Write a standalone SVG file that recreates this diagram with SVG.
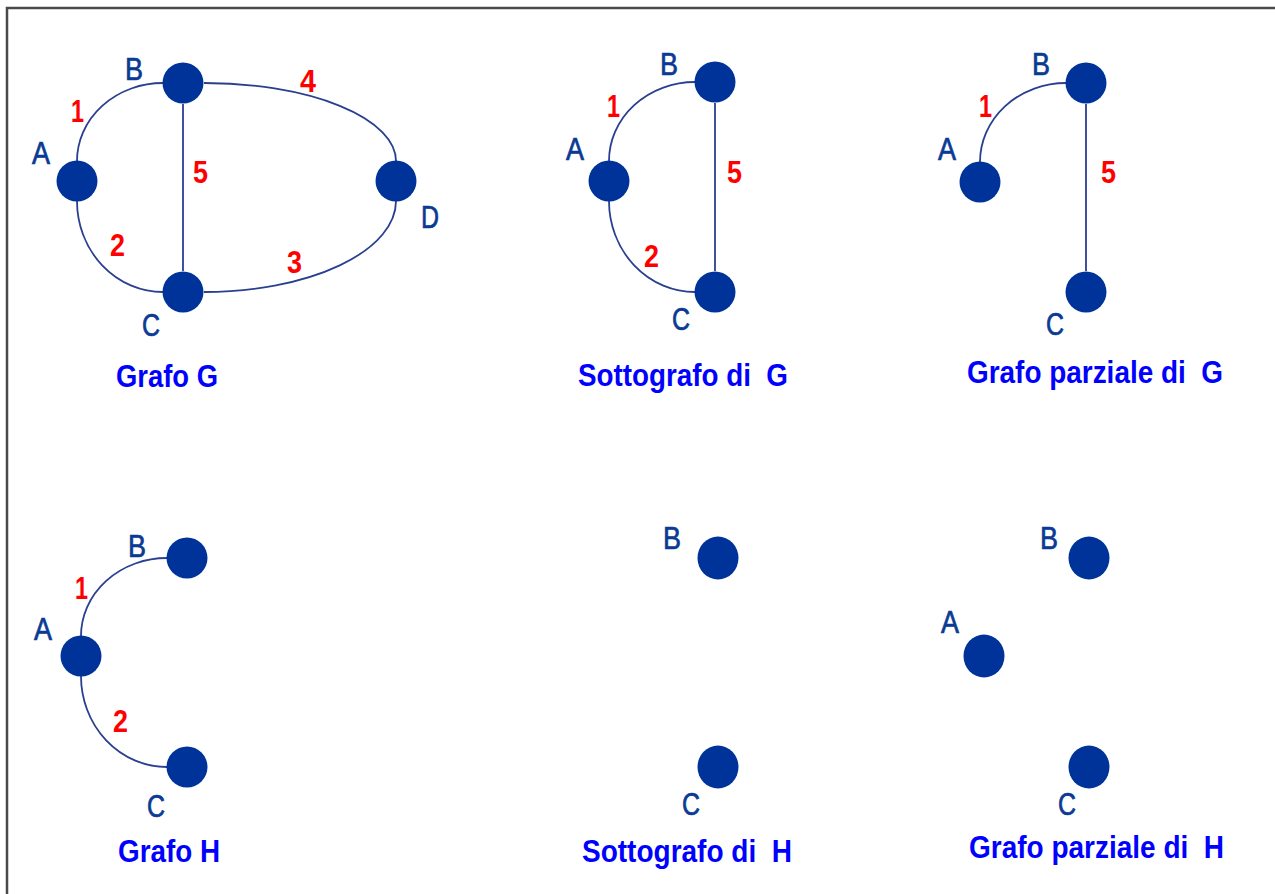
<svg xmlns="http://www.w3.org/2000/svg" width="1275" height="894" viewBox="0 0 1275 894">
<style>
.n{fill:#003399}
.e{fill:none;stroke:#2a3f8f;stroke-width:1.8}
.lb{font-family:"Liberation Sans",Arial,sans-serif;font-size:31px;fill:#0a3a94;stroke:#0a3a94;stroke-width:0.7}
.ew{font-family:"Liberation Sans",Arial,sans-serif;font-size:31px;font-weight:bold;fill:#ff0000}
.t{font-family:"Liberation Sans",Arial,sans-serif;font-size:31px;font-weight:bold;fill:#0000ff;white-space:pre}
</style>
<rect width="1275" height="894" fill="#ffffff"/>
<path d="M7,894 V8 H1275" fill="none" stroke="#4a4a4a" stroke-width="2.5"/>

<g id="connectors">
  <path class="e" d="M77,161 A86,78 0 0 1 163,83"/>
  <path class="e" d="M77,201 A86,91 0 0 0 163,292"/>
  <path class="e" d="M204,83 A192,78 0 0 1 396,161"/>
  <path class="e" d="M204,292 A192,91 0 0 0 396,201"/>
  <path class="e" d="M183,104 V271"/>
  <path class="e" d="M609,161 A86,79 0 0 1 695,82"/>
  <path class="e" d="M609,201 A86,91 0 0 0 695,292"/>
  <path class="e" d="M715,103 V271"/>
  <path class="e" d="M980,162 A86,79 0 0 1 1066,83"/>
  <path class="e" d="M1086,104 V271"/>
  <path class="e" d="M81,636 A86,78 0 0 1 167,558"/>
  <path class="e" d="M81,676 A86,91 0 0 0 167,767"/>
</g>

<g id="edge-labels">
  <text class="ew" x="71" y="122" textLength="13" lengthAdjust="spacingAndGlyphs">1</text>
  <text class="ew" x="300" y="92" textLength="16" lengthAdjust="spacingAndGlyphs">4</text>
  <text class="ew" x="193" y="183" textLength="15" lengthAdjust="spacingAndGlyphs">5</text>
  <text class="ew" x="110" y="256" textLength="15" lengthAdjust="spacingAndGlyphs">2</text>
  <text class="ew" x="287" y="273" textLength="15" lengthAdjust="spacingAndGlyphs">3</text>
  <text class="ew" x="607" y="117" textLength="13" lengthAdjust="spacingAndGlyphs">1</text>
  <text class="ew" x="727" y="183" textLength="15" lengthAdjust="spacingAndGlyphs">5</text>
  <text class="ew" x="644" y="267" textLength="15" lengthAdjust="spacingAndGlyphs">2</text>
  <text class="ew" x="979" y="117" textLength="13" lengthAdjust="spacingAndGlyphs">1</text>
  <text class="ew" x="1101" y="183" textLength="15" lengthAdjust="spacingAndGlyphs">5</text>
  <text class="ew" x="75" y="599" textLength="13" lengthAdjust="spacingAndGlyphs">1</text>
  <text class="ew" x="113" y="732" textLength="15" lengthAdjust="spacingAndGlyphs">2</text>
</g>

<g id="grafo-G">
  <g id="G-A"><circle class="n" cx="77" cy="181" r="20.5"/><text class="lb" x="32" y="164" textLength="18" lengthAdjust="spacingAndGlyphs">A</text></g>
  <g id="G-B"><circle class="n" cx="183" cy="83" r="20.5"/><text class="lb" x="125" y="80" textLength="18" lengthAdjust="spacingAndGlyphs">B</text></g>
  <g id="G-C"><circle class="n" cx="183" cy="292" r="20.5"/><text class="lb" x="142" y="336" textLength="18" lengthAdjust="spacingAndGlyphs">C</text></g>
  <g id="G-D"><circle class="n" cx="396" cy="181" r="20.5"/><text class="lb" x="421" y="228" textLength="18" lengthAdjust="spacingAndGlyphs">D</text></g>
  <text class="t" x="116" y="387" textLength="102" lengthAdjust="spacingAndGlyphs">Grafo G</text>
</g>

<g id="sottografo-G">
  <g id="SG-A"><circle class="n" cx="609" cy="181" r="20.5"/><text class="lb" x="566" y="160" textLength="18" lengthAdjust="spacingAndGlyphs">A</text></g>
  <g id="SG-B"><circle class="n" cx="715" cy="82" r="20.5"/><text class="lb" x="660" y="75" textLength="18" lengthAdjust="spacingAndGlyphs">B</text></g>
  <g id="SG-C"><circle class="n" cx="715" cy="292" r="20.5"/><text class="lb" x="672" y="330" textLength="18" lengthAdjust="spacingAndGlyphs">C</text></g>
  <text class="t" x="578" y="386" textLength="210" lengthAdjust="spacingAndGlyphs">Sottografo di  G</text>
</g>

<g id="parziale-G">
  <g id="PG-A"><circle class="n" cx="980" cy="182" r="20.5"/><text class="lb" x="938" y="160" textLength="18" lengthAdjust="spacingAndGlyphs">A</text></g>
  <g id="PG-B"><circle class="n" cx="1086" cy="83" r="20.5"/><text class="lb" x="1032" y="75" textLength="18" lengthAdjust="spacingAndGlyphs">B</text></g>
  <g id="PG-C"><circle class="n" cx="1086" cy="292" r="20.5"/><text class="lb" x="1046" y="335" textLength="18" lengthAdjust="spacingAndGlyphs">C</text></g>
  <text class="t" x="967" y="383" textLength="256" lengthAdjust="spacingAndGlyphs">Grafo parziale di  G</text>
</g>

<g id="grafo-H">
  <g id="H-A"><circle class="n" cx="81" cy="656" r="20.5"/><text class="lb" x="34" y="640" textLength="18" lengthAdjust="spacingAndGlyphs">A</text></g>
  <g id="H-B"><circle class="n" cx="187" cy="558" r="20.5"/><text class="lb" x="128" y="557" textLength="18" lengthAdjust="spacingAndGlyphs">B</text></g>
  <g id="H-C"><circle class="n" cx="187" cy="767" r="20.5"/><text class="lb" x="147" y="817" textLength="18" lengthAdjust="spacingAndGlyphs">C</text></g>
  <text class="t" x="118" y="862" textLength="102" lengthAdjust="spacingAndGlyphs">Grafo H</text>
</g>

<g id="sottografo-H">
  <g id="SH-B"><ellipse class="n" cx="718" cy="558" rx="20.5" ry="21.5"/><text class="lb" x="663" y="549" textLength="18" lengthAdjust="spacingAndGlyphs">B</text></g>
  <g id="SH-C"><ellipse class="n" cx="718" cy="767" rx="20.5" ry="21.5"/><text class="lb" x="682" y="815" textLength="18" lengthAdjust="spacingAndGlyphs">C</text></g>
  <text class="t" x="582" y="862" textLength="210" lengthAdjust="spacingAndGlyphs">Sottografo di  H</text>
</g>

<g id="parziale-H">
  <g id="PH-A"><ellipse class="n" cx="984" cy="656" rx="20.5" ry="21.5"/><text class="lb" x="941" y="633" textLength="18" lengthAdjust="spacingAndGlyphs">A</text></g>
  <g id="PH-B"><ellipse class="n" cx="1089" cy="558" rx="20.5" ry="21.5"/><text class="lb" x="1040" y="549" textLength="18" lengthAdjust="spacingAndGlyphs">B</text></g>
  <g id="PH-C"><ellipse class="n" cx="1089" cy="767" rx="20.5" ry="21.5"/><text class="lb" x="1058" y="815" textLength="18" lengthAdjust="spacingAndGlyphs">C</text></g>
  <text class="t" x="969" y="858" textLength="255" lengthAdjust="spacingAndGlyphs">Grafo parziale di  H</text>
</g>
</svg>
